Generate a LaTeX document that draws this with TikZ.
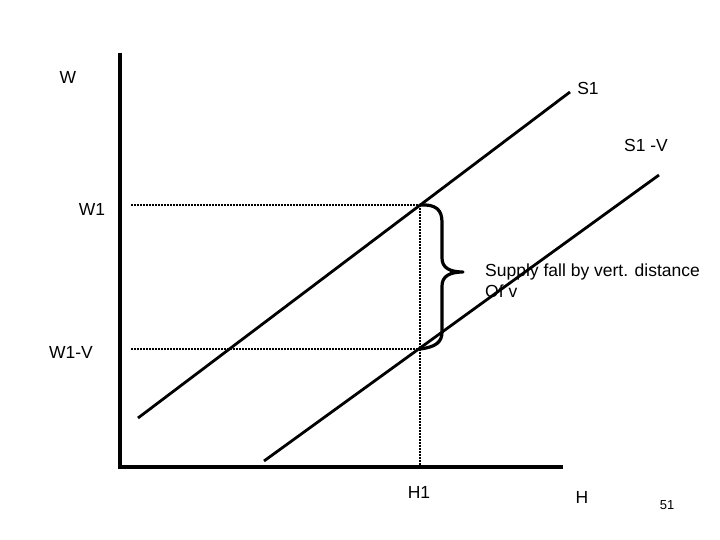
\documentclass[tikz,border=0pt]{standalone}
\usepackage{fontspec}
\setmainfont{Liberation Sans}
\begin{document}
\begin{tikzpicture}[x=1pt,y=-1pt,
  axis/.style={line width=3.2pt},
  curve/.style={line width=2.8pt},
  guide/.style={line width=2.2pt,dash pattern=on 1.6pt off 1.4pt},
  lbl/.style={font=\fontsize{17.5}{21}\selectfont,inner sep=0pt},
  bracestyle/.style={line width=3.2pt,line cap=round,line join=round}]
\useasboundingbox (0,0) rectangle (720,540);
% axes
\coordinate (top) at (120,53);
\coordinate (origin) at (120,467);
\coordinate (right) at (563,467);
\draw[axis] (top) -- (origin) -- (right);
% supply curves
\coordinate (s1a) at (138,418);
\coordinate (s1b) at (570,92);
\coordinate (s2a) at (264,461);
\coordinate (s2b) at (659,175);
\draw[curve] (s1a) -- (s1b);
\draw[curve] (s2a) -- (s2b);
% guides
\coordinate (w1l) at (131,205);
\coordinate (p1) at (420,205);
\coordinate (w2l) at (131,349);
\coordinate (p2) at (420,349);
\coordinate (h1) at (420,467);
\draw[guide] (w1l) -- (p1);
\draw[guide] (w2l) -- (p2);
\draw[guide] (p1) -- (h1);
% brace
\draw[bracestyle] (p1) .. controls (436,204) and (442,210) .. (442,222)
  -- (442,258) .. controls (442,268) and (450,272) .. (463,272)
  .. controls (450,272) and (442,276) .. (442,286)
  -- (442,332) .. controls (442,342) and (436,347) .. (p2);
% labels
\node[lbl] (lw) at (68,77) {W};
\node[lbl] (ls1) at (588,88) {S1};
\node[lbl] (ls2) at (646,145) {S1 -V};
\node[lbl] (lw1) at (92,209) {W1};
\node[lbl] (lw2) at (71,352) {W1-V};
\node[lbl] (lh1) at (419,492) {H1};
\node[lbl] (lh) at (582,497) {H};
\node[lbl,font=\fontsize{13}{15}\selectfont] (l51) at (667,505) {51};
\node[lbl,anchor=west,align=left] (note) at (485,281) {Supply fall by vert. distance\\Of v};
\end{tikzpicture}
\end{document}
